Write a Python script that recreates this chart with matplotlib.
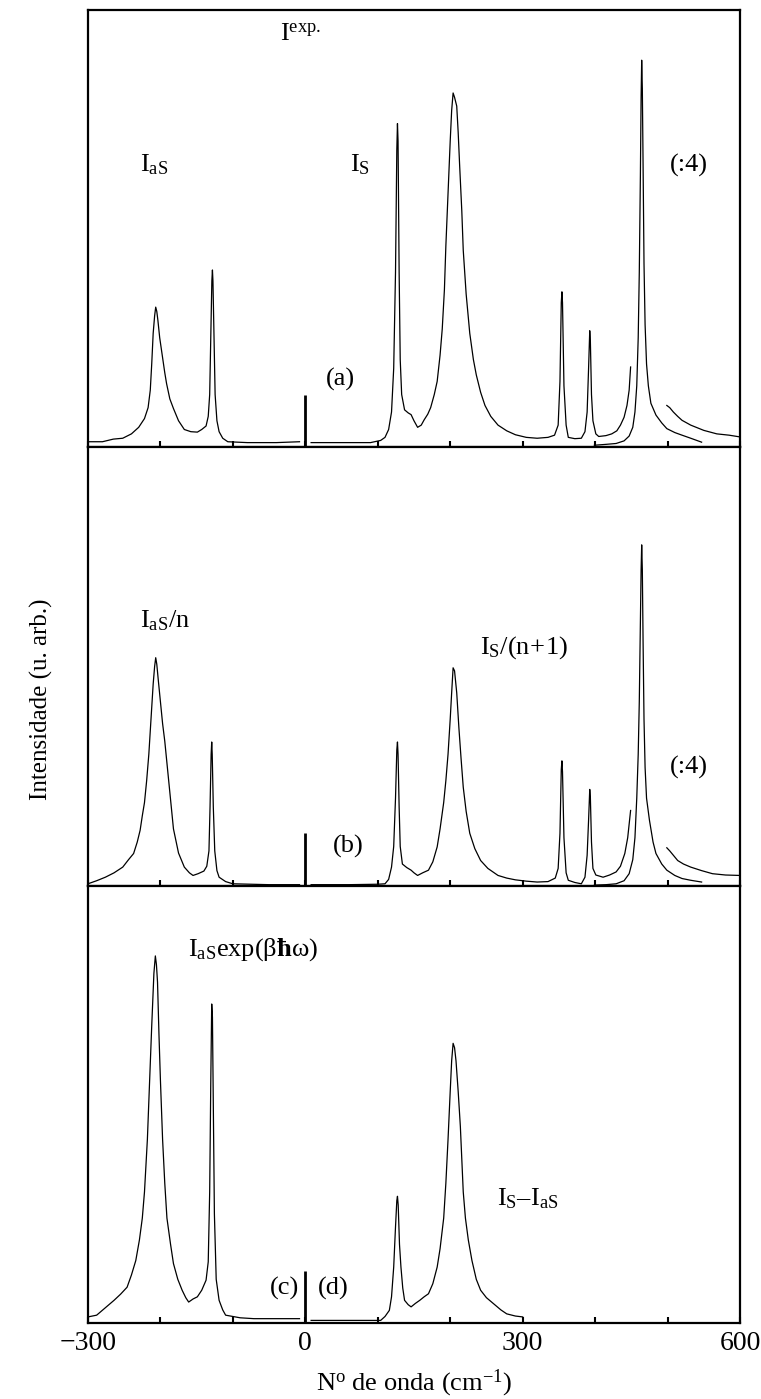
import matplotlib
matplotlib.use("Agg")
import matplotlib.pyplot as plt

plt.rcParams['font.family'] = ['Liberation Serif', 'DejaVu Serif']
plt.rcParams['mathtext.fontset'] = 'custom'
plt.rcParams['mathtext.rm'] = 'Liberation Serif'
plt.rcParams['mathtext.it'] = 'Liberation Serif:italic'
plt.rcParams['mathtext.bf'] = 'Liberation Serif:bold'

# ---- data (wavenumber in cm-1, intensity in panel units 0..1)
# panel (a): measured spectrum
a_x = [-300, -280, -265, -252, -240, -230, -222, -217, -214, -212, -210, -208, -206.5, -205, -203.5,
       -201, -197.5, -194, -191.5, -187, -182, -175, -167, -158, -149, -143, -137, -134, -132, -130.5,
       -129, -128.2, -127.5, -126, -124.5, -122, -119, -114, -107, -80, -40, -8]
a_y = [0.012, 0.012, 0.018, 0.02, 0.03, 0.045, 0.065, 0.09, 0.13, 0.19, 0.26, 0.30, 0.32, 0.31, 0.29,
       0.25, 0.21, 0.17, 0.145, 0.11, 0.088, 0.06, 0.04, 0.035, 0.034, 0.04, 0.048, 0.07, 0.12, 0.25,
       0.38, 0.405, 0.38, 0.25, 0.12, 0.06, 0.035, 0.02, 0.012, 0.01, 0.01, 0.012]
a2_x = [8, 50, 90, 104, 110, 115, 119, 122, 124.5, 126.3, 127.2, 128, 129.5, 131, 133, 137, 142, 146,
        150, 155, 160, 164, 169, 173, 178, 182, 186, 189, 192, 194, 197, 200, 202, 204, 206, 209, 211,
        213, 216, 218, 222, 227, 232, 236, 242, 248, 256, 266, 278, 290, 305, 320, 335, 344, 349, 351.5,
        353.3, 354.2, 355, 357, 360, 363, 372, 381, 386, 389, 391, 392.6, 393.5, 395, 397, 401, 405,
        415, 423, 430, 435, 440, 444, 447, 449]
a2_y = [0.01, 0.01, 0.01, 0.015, 0.022, 0.04, 0.08, 0.18, 0.40, 0.68, 0.74, 0.70, 0.40, 0.2, 0.12,
        0.085, 0.078, 0.074, 0.06, 0.045, 0.05, 0.062, 0.075, 0.09, 0.12, 0.15, 0.21, 0.27, 0.36, 0.46,
        0.58, 0.70, 0.77, 0.81, 0.80, 0.78, 0.72, 0.645, 0.54, 0.45, 0.35, 0.26, 0.2, 0.165, 0.125,
        0.095, 0.07, 0.05, 0.037, 0.028, 0.022, 0.02, 0.022, 0.027, 0.05, 0.15, 0.33, 0.355, 0.33,
        0.14, 0.05, 0.022, 0.019, 0.02, 0.035, 0.08, 0.18, 0.266, 0.24, 0.12, 0.06, 0.03, 0.024, 0.026,
        0.03, 0.037, 0.05, 0.068, 0.095, 0.13, 0.183]
a_tail_x = [499, 503, 508, 514, 520, 532, 550, 568, 585, 600]
a_tail_y = [0.095, 0.09, 0.08, 0.07, 0.061, 0.05, 0.038, 0.03, 0.027, 0.023]
# (:4) scaled strong line
a4_x = [399, 415, 429, 440, 447, 452, 455, 457.5, 459.5, 461, 462.5, 463.5, 464.3, 465.2, 466.2,
        467.5, 469, 471, 473.5, 477, 484, 492, 499, 510, 520, 532, 547]
a4_y = [0.004, 0.006, 0.008, 0.014, 0.025, 0.045, 0.08, 0.14, 0.25, 0.40, 0.62, 0.8, 0.885, 0.82,
        0.65, 0.42, 0.28, 0.19, 0.14, 0.1, 0.073, 0.055, 0.042, 0.033, 0.027, 0.02, 0.011]

# panel (b): I_aS/n and I_S/(n+1)
b_x = [-300, -288, -276, -264, -252, -244, -237, -232, -228, -225, -222, -219, -216, -213, -210, -208,
       -206.5, -205, -203, -200, -197, -194, -191, -188, -185, -182, -175, -167, -160, -155, -148, -140,
       -136, -133, -131.5, -130, -129.2, -128.5, -127, -125, -122, -119, -110, -100, -50, -8]
b_y = [0.005, 0.012, 0.02, 0.03, 0.043, 0.06, 0.074, 0.1, 0.127, 0.16, 0.19, 0.24, 0.30, 0.38, 0.46,
       0.50, 0.52, 0.505, 0.47, 0.42, 0.37, 0.33, 0.28, 0.23, 0.18, 0.13, 0.075, 0.043, 0.03, 0.024,
       0.028, 0.034, 0.045, 0.08, 0.18, 0.30, 0.328, 0.30, 0.18, 0.08, 0.035, 0.02, 0.01, 0.005, 0.003,
       0.003]
b2_x = [8, 60, 100, 110, 115, 119, 122, 124.5, 126.3, 127.2, 128, 129.5, 131, 134, 140, 146, 150, 155,
        162, 170, 176, 182, 186, 191, 194, 197, 200, 202, 204, 206, 209, 212, 215, 218, 222, 227, 234,
        242, 252, 266, 278, 290, 305, 320, 335, 345, 349, 351.5, 353.3, 354.2, 355, 357, 360, 363, 372,
        381, 386, 389, 391, 392.6, 393.5, 395, 397, 401, 411, 420, 429, 435, 441, 445, 449]
b2_y = [0.003, 0.003, 0.004, 0.005, 0.015, 0.043, 0.09, 0.2, 0.31, 0.328, 0.3, 0.18, 0.09, 0.05, 0.042,
        0.036, 0.03, 0.024, 0.03, 0.036, 0.055, 0.089, 0.13, 0.19, 0.24, 0.30, 0.38, 0.44, 0.497, 0.49,
        0.44, 0.36, 0.29, 0.225, 0.17, 0.12, 0.085, 0.058, 0.04, 0.024, 0.018, 0.014, 0.011, 0.009, 0.01,
        0.018, 0.04, 0.12, 0.265, 0.285, 0.26, 0.11, 0.03, 0.013, 0.008, 0.005, 0.02, 0.07, 0.15, 0.22,
        0.2, 0.1, 0.04, 0.025, 0.02, 0.025, 0.032, 0.045, 0.074, 0.11, 0.172]
b_tail_x = [499, 503, 508, 514, 522, 532, 547, 562, 580, 600]
b_tail_y = [0.087, 0.08, 0.07, 0.058, 0.05, 0.043, 0.035, 0.028, 0.025, 0.024]
b4_x = [399, 415, 429, 440, 447, 452, 455, 457.5, 459.5, 461, 462.5, 463.5, 464.3, 465.2, 466.2,
        467.5, 469, 471, 475, 480, 484, 492, 499, 510, 520, 532, 547]
b4_y = [0.002, 0.003, 0.005, 0.012, 0.028, 0.06, 0.11, 0.2, 0.3, 0.42, 0.6, 0.72, 0.777, 0.72, 0.56,
        0.38, 0.27, 0.2, 0.15, 0.1, 0.074, 0.05, 0.036, 0.024, 0.017, 0.013, 0.009]

# panel (c): I_aS exp(beta hbar omega), (d): I_S - I_aS
c_x = [-300, -288, -276, -264, -255, -246, -240, -234, -229, -225, -222, -218, -215, -212, -209, -207,
       -205.5, -204, -202, -200, -197, -194, -191, -186, -182, -176, -170, -165, -161, -155, -149,
       -143, -137, -134, -132, -130.5, -129.2, -128.2, -127, -125.5, -123, -119, -114, -110, -90, -71,
       -40, -8]
c_y = [0.014, 0.018, 0.035, 0.052, 0.066, 0.082, 0.11, 0.143, 0.19, 0.24, 0.30, 0.42, 0.55, 0.68, 0.80,
       0.84, 0.82, 0.78, 0.66, 0.556, 0.42, 0.32, 0.24, 0.18, 0.136, 0.1, 0.075, 0.058, 0.048, 0.055,
       0.06, 0.075, 0.098, 0.14, 0.3, 0.55, 0.73, 0.7, 0.5, 0.25, 0.1, 0.052, 0.03, 0.018, 0.012, 0.01,
       0.01, 0.01]
d_x = [8, 50, 90, 104, 110, 116, 119, 122, 124.5, 126.3, 127.2, 128.2, 130, 132, 134.5, 137, 142, 146,
       152, 158, 164, 170, 176, 182, 186, 191, 194, 197, 200, 202, 204, 206, 208, 211, 214, 218, 221,
       225, 230, 236, 242, 250, 260, 270, 278, 290, 300]
d_y = [0.006, 0.006, 0.006, 0.006, 0.015, 0.029, 0.06, 0.128, 0.22, 0.28, 0.29, 0.27, 0.18, 0.128,
       0.08, 0.052, 0.042, 0.037, 0.045, 0.052, 0.06, 0.067, 0.09, 0.128, 0.17, 0.24, 0.32, 0.42, 0.53,
       0.6, 0.64, 0.63, 0.6, 0.53, 0.45, 0.3, 0.24, 0.19, 0.143, 0.1, 0.075, 0.058, 0.044, 0.03, 0.021,
       0.016, 0.014]

laser_x = 0
laser_h = [0.12, 0.12, 0.12]

xticks_major = [-300, 0, 300, 600]
xtick_labels = ['\u2212300', '0', '300', '600']
xticks_minor = [-200, -100, 100, 200, 400, 500]

# ---- figure
fig = plt.figure(figsize=(7.61, 13.99), dpi=100)
left, width = 0.1156, 0.8568
boxes = [(0.6805, 0.3124), (0.3667, 0.3138), (0.0543, 0.3124)]
axes = [fig.add_axes([left, b, width, h]) for b, h in boxes]

lw = 0.9
curves = [
    [(a_x, a_y), (a2_x, a2_y), (a_tail_x, a_tail_y), (a4_x, a4_y)],
    [(b_x, b_y), (b2_x, b2_y), (b_tail_x, b_tail_y), (b4_x, b4_y)],
    [(c_x, c_y), (d_x, d_y)],
]

for i, ax in enumerate(axes):
    for xs, ys in curves[i]:
        ax.plot(xs, ys, color='black', lw=lw)
    ax.vlines(laser_x, 0, laser_h[i], color='black', lw=2)
    ax.set_xlim(-300, 600)
    ax.set_ylim(0, 1)
    ax.set_yticks([])
    ax.set_xticks(xticks_major)
    ax.set_xticks(xticks_minor, minor=True)
    ax.tick_params(axis='x', which='both', direction='in', length=4, width=1.5, top=False)
    for s in ax.spines.values():
        s.set_linewidth(1.6)
    if i < 2:
        ax.set_xticklabels([])
    else:
        ax.set_xticklabels(xtick_labels)
        ax.tick_params(axis='x', labelsize=20, pad=6)

txt = 19
# panel (a)
ax = axes[0]
ax.text(-35, 0.93, r'$\mathrm{I}^{\mathrm{exp.}}$', fontsize=txt)
ax.text(-228, 0.63, r'$\mathrm{I}_{\mathrm{aS}}$', fontsize=txt)
ax.text(62, 0.63, r'$\mathrm{I}_{\mathrm{S}}$', fontsize=txt)
ax.text(503, 0.63, '(:4)', fontsize=txt)
ax.text(29, 0.14, '(a)', fontsize=txt)
# panel (b)
ax = axes[1]
ax.text(-228, 0.59, r'$\mathrm{I}_{\mathrm{aS}}\mathrm{/n}$', fontsize=txt)
ax.text(241, 0.53, r'$\mathrm{I}_{\mathrm{S}}\mathrm{/(n\!+\!1)}$', fontsize=txt)
ax.text(503, 0.255, '(:4)', fontsize=txt)
ax.text(38, 0.075, '(b)', fontsize=txt)
# panel (c)/(d)
ax = axes[2]
ax.text(-162, 0.84, r'$\mathrm{I}_{\mathrm{aS}}\mathrm{exp(β}\mathbf{ħ}\mathrm{ω)}$', fontsize=txt)
ax.text(265, 0.27, r'$\mathrm{I}_{\mathrm{S}}\mathrm{–I}_{\mathrm{aS}}$', fontsize=txt)
ax.text(-8, 0.065, '(c)', fontsize=txt, ha='right')
ax.text(18, 0.065, '(d)', fontsize=txt)

axes[2].set_xlabel(r'N$^{\mathrm{o}}$ de onda (cm$^{-1}$)', fontsize=19, labelpad=8)
fig.text(0.054, 0.5, 'Intensidade (u. arb.)', rotation=90, fontsize=18, ha='center', va='center')

fig.savefig('out.png', dpi=100)
